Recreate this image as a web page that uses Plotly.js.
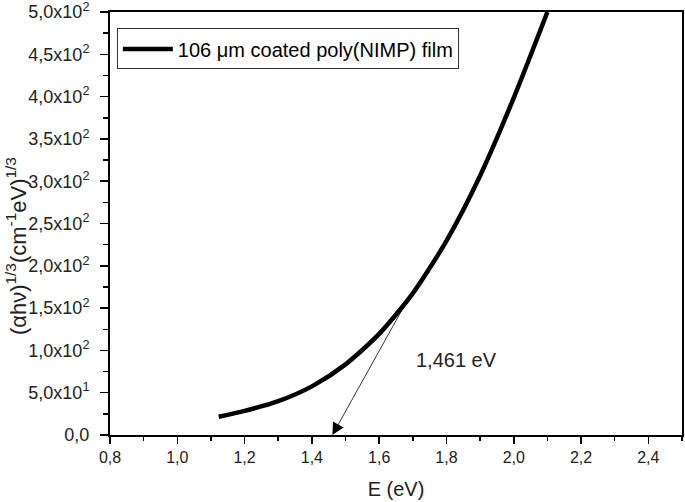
<!DOCTYPE html>
<html>
<head>
<meta charset="utf-8">
<script src="https://cdn.plot.ly/plotly-3.0.1.min.js"></script>
<style>html,body{margin:0;padding:0;background:#fff;}#chart{width:685px;height:502px;}</style>
</head>
<body>
<div id="chart"></div>
<script>
// Data
const energyEV = [1.123, 1.2, 1.3, 1.4, 1.5, 1.6, 1.7, 1.8, 1.9, 2.0, 2.1];
const alphaHv13 = [21.6, 28.5, 40.0, 57.5, 83.5, 119.5, 167.5, 229.5, 306.5, 398.5, 500.0];
const seriesName = "106 \u03bcm coated poly(NIMP) film";

const xTickVals = [0.8, 1.0, 1.2, 1.4, 1.6, 1.8, 2.0, 2.2, 2.4];
const xTickText = ["0,8", "1,0", "1,2", "1,4", "1,6", "1,8", "2,0", "2,2", "2,4"];
const yTickVals = [0, 50, 100, 150, 200, 250, 300, 350, 400, 450, 500];
const yTickText = ["0,0", "5,0x10<sup>1</sup>", "1,0x10<sup>2</sup>", "1,5x10<sup>2</sup>", "2,0x10<sup>2</sup>",
  "2,5x10<sup>2</sup>", "3,0x10<sup>2</sup>", "3,5x10<sup>2</sup>", "4,0x10<sup>2</sup>", "4,5x10<sup>2</sup>", "5,0x10<sup>2</sup>"];

const bandGap = 1.461;
const bandGapLabel = "1,461 eV";
const tangentStart = [1.675, 153];

const font = "Arial, 'Liberation Sans', sans-serif";

const trace = {
  x: energyEV, y: alphaHv13, type: "scatter", mode: "lines",
  name: seriesName,
  line: {color: "#000", width: 4.5, shape: "spline", smoothing: 0.7},
  cliponaxis: true
};

const layout = {
  width: 685, height: 502,
  margin: {l: 110, r: 3, t: 12, b: 67},
  paper_bgcolor: "#fff", plot_bgcolor: "#fff",
  font: {family: font, color: "#000"},
  showlegend: true,
  legend: {
    x: 0.012, y: 0.961, xanchor: "left", yanchor: "top",
    bordercolor: "#333", borderwidth: 1, bgcolor: "#fff",
    font: {family: font, size: 20, color: "#000"},
    itemwidth: 50, tracegroupgap: 0
  },
  xaxis: {
    range: [0.8, 2.5], tickvals: xTickVals, ticktext: xTickText,
    ticks: "outside", ticklen: 7, tickwidth: 1.5, tickcolor: "#000",
    showline: true, linecolor: "#000", linewidth: 2, mirror: true,
    showgrid: false, zeroline: false, ticklabeloverflow: "allow",
    tickfont: {family: font, size: 16, color: "#222"},
    minor: {dtick: 0.1, ticks: "outside", ticklen: 4, tickwidth: 1.5, tickcolor: "#000", showgrid: false},
    title: {text: "E (eV)", font: {family: font, size: 20, color: "#222"}, standoff: 17}
  },
  yaxis: {
    range: [0, 500], tickvals: yTickVals, ticktext: yTickText,
    ticks: "outside", ticklen: 8, tickwidth: 1.5, tickcolor: "#000",
    showline: true, linecolor: "#000", linewidth: 2, mirror: true,
    showgrid: false, zeroline: false, ticklabeloverflow: "allow", ticklabelstandoff: 7,
    tickfont: {family: font, size: 18, color: "#222"},
    minor: {dtick: 25, ticks: "outside", ticklen: 5, tickwidth: 1.5, tickcolor: "#000", showgrid: false}
  },
  annotations: [
    {
      x: bandGap, y: 0, xref: "x", yref: "y",
      ax: tangentStart[0], ay: tangentStart[1], axref: "x", ayref: "y",
      text: "", showarrow: true, arrowhead: 2, arrowsize: 3, arrowwidth: 0.8, arrowcolor: "#000"
    },
    {
      x: 1.831, y: 88.6, xref: "x", yref: "y", showarrow: false,
      text: bandGapLabel, font: {family: font, size: 20, color: "#222"}
    },
    {
      x: -0.163, y: 0.446, xref: "paper", yref: "paper", xanchor: "center", yanchor: "middle",
      showarrow: false, textangle: -90,
      text: "(\u03b1h\u03bd)<sup>1/3</sup>(cm<sup>-1</sup>eV)<sup>1/3</sup>",
      font: {family: font, size: 22, color: "#222"}
    }
  ]
};

Plotly.newPlot("chart", [trace], layout, {staticPlot: true, displayModeBar: false});
</script>
</body>
</html>
